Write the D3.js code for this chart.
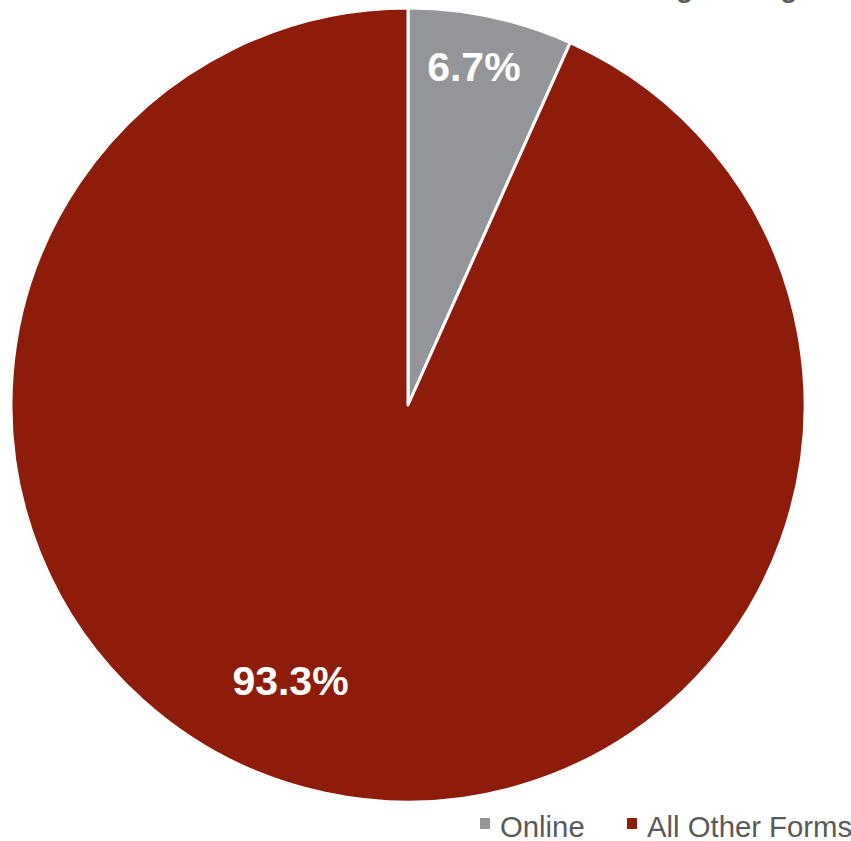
<!DOCTYPE html>
<html>
<head>
<meta charset="utf-8">
<script src="https://cdn.jsdelivr.net/npm/d3@7"></script>
<style>
  html, body { margin: 0; padding: 0; background: #ffffff; overflow: hidden; }
  svg { display: block; font-family: "Liberation Sans", Arial, sans-serif; }
</style>
</head>
<body>
<svg id="chart" width="851" height="841"></svg>
<script>
// Share of giving by channel
const categories = ["Online", "All Other Forms"];
const shares = [6.7, 93.3];
const colors = ["#939598", "#8E1C0B"];
const titleText = "Charitable Giving Through Online Channels";

const width = 851, height = 841;
const cx = 408, cy = 405, radius = 397;

const svg = d3.select("#chart");

// Title sits mostly above the visible area
const title = svg.append("text")
  .attr("x", 0)
  .attr("y", -3)
  .attr("fill", "#595959")
  .attr("font-weight", "bold")
  .attr("font-size", 28)
  .text(titleText);
const gIdx = titleText.indexOf("Giving") + 5;
const gx = title.node().getStartPositionOfChar(gIdx).x;
title.attr("x", 676 - gx);

const data = categories.map((c, i) => ({ category: c, value: shares[i], color: colors[i] }));

const pie = d3.pie()
  .sort(null)
  .value(d => d.value);

const arc = d3.arc()
  .innerRadius(0)
  .outerRadius(radius);

const arcs = pie(data);

const g = svg.append("g").attr("transform", `translate(${cx},${cy})`);

g.selectAll("path.slice")
  .data(arcs)
  .join("path")
  .attr("class", "slice")
  .attr("d", arc)
  .attr("fill", d => d.data.color)
  .attr("stroke", "#ffffff")
  .attr("stroke-width", 3)
  .attr("stroke-linejoin", "round");

// Label placement: radius fraction and angular position within each slice
const labelPos = [
  { r: 0.87, t: 0.456 },
  { r: 0.753, t: 0.533 }
];

g.selectAll("text.value")
  .data(arcs)
  .join("text")
  .attr("class", "value")
  .attr("transform", (d, i) => {
    const p = labelPos[i];
    const a = d.startAngle + (d.endAngle - d.startAngle) * p.t;
    const r = radius * p.r;
    return `translate(${r * Math.sin(a)},${-r * Math.cos(a)})`;
  })
  .attr("text-anchor", "middle")
  .attr("dy", "0.36em")
  .attr("fill", "#ffffff")
  .attr("font-weight", "bold")
  .attr("font-size", 41)
  .text(d => d.data.value.toFixed(1) + "%");

// Legend
const legendX = [480, 627];
const legend = svg.append("g");
const items = legend.selectAll("g.item")
  .data(data)
  .join("g")
  .attr("class", "item")
  .attr("transform", (d, i) => `translate(${legendX[i]},818)`);

items.append("rect")
  .attr("width", 10)
  .attr("height", 11)
  .attr("fill", d => d.color);

items.append("text")
  .attr("x", 20)
  .attr("y", 19)
  .attr("fill", "#595959")
  .attr("font-size", 29.3)
  .text(d => d.category);
</script>
</body>
</html>
